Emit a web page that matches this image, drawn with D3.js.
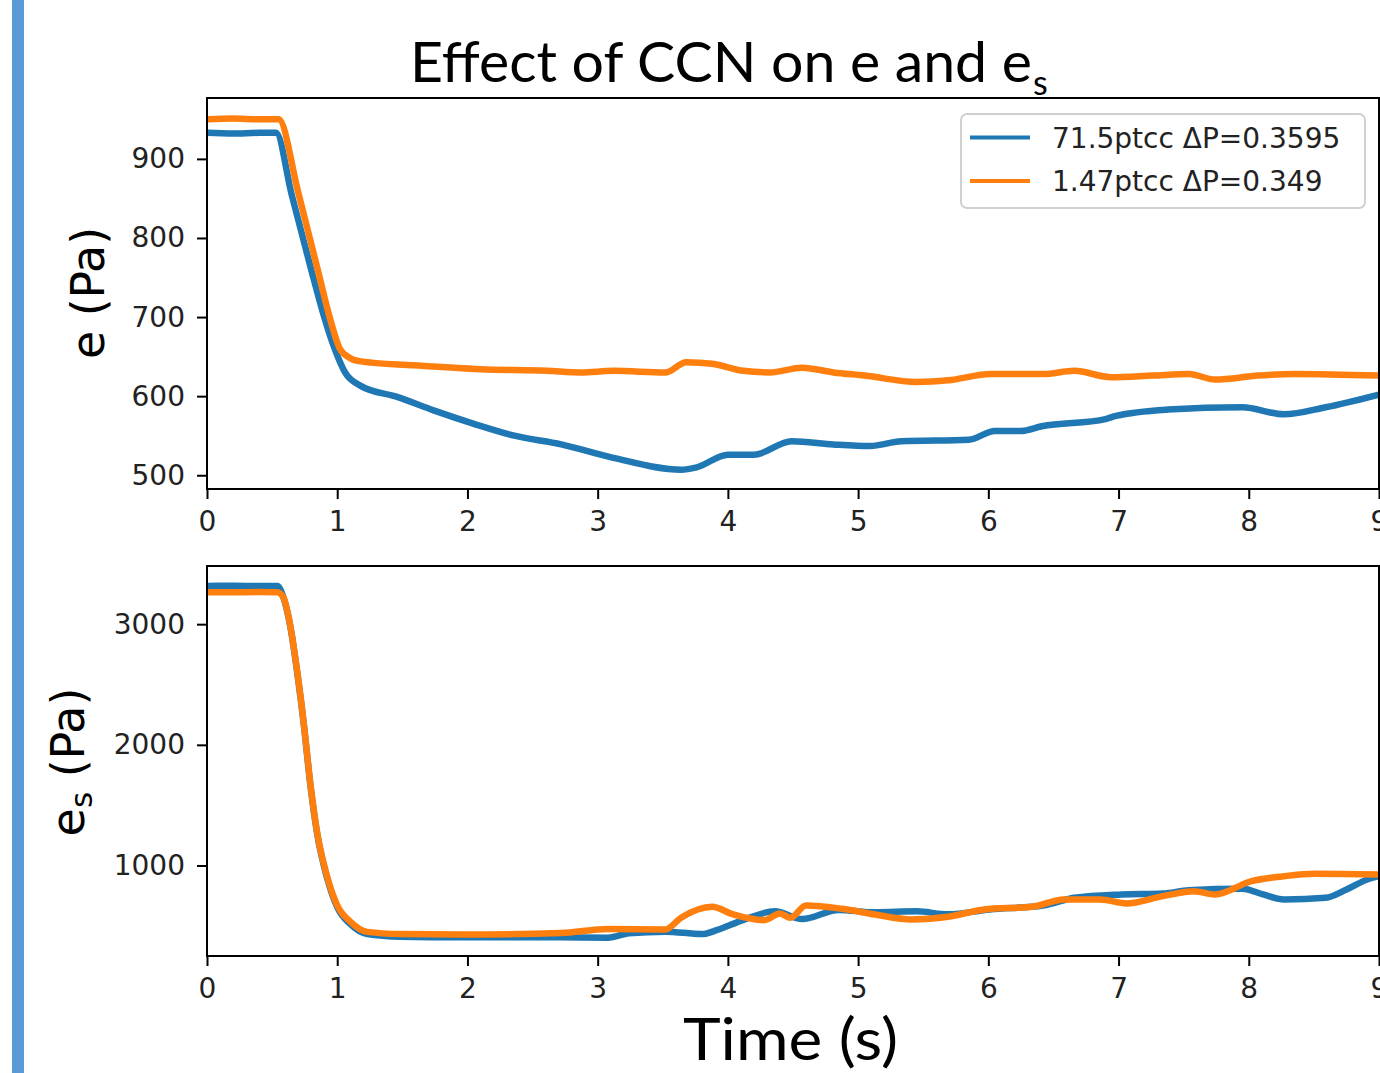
<!DOCTYPE html>
<html>
<head>
<meta charset="utf-8">
<script src="https://cdn.jsdelivr.net/npm/d3@7"></script>
<style>
  html, body { margin: 0; padding: 0; background: #fff; overflow: hidden; }
  svg { display: block; }
</style>
</head>
<body>
<svg id="chart" width="1380" height="1073"></svg>
<script>
// ---------- data ----------
const xTicks = [0, 1, 2, 3, 4, 5, 6, 7, 8, 9];
const eTicks = [500, 600, 700, 800, 900];
const esTicks = [1000, 2000, 3000];
const seriesNames = ["71.5ptcc \u0394P=0.3595", "1.47ptcc \u0394P=0.349"];

// top panel: e (Pa)
const eBlueT = [0, 0.2, 0.4, 0.53, 0.65, 0.8, 0.9, 0.98, 1.06, 1.18, 1.46, 1.74, 2.05, 2.36, 2.72, 3.12, 3.64, 3.76, 4.0, 4.2, 4.49, 4.81, 5.09, 5.33, 5.85, 6.05, 6.25, 6.41, 6.9, 6.98, 7.38, 7.95, 8.27, 8.59, 9.0];
const eBlueV = [933, 932, 933, 933, 855, 760, 700, 660, 630, 613, 599, 582, 565, 550, 539, 522, 507, 510, 526, 526, 543, 539, 537, 543, 545, 556, 556, 562, 571, 575, 583, 586, 577, 586, 602];
const eOrangeT = [0, 0.2, 0.4, 0.55, 0.7, 0.85, 0.95, 1.02, 1.1, 1.18, 1.59, 2.1, 2.61, 2.87, 3.12, 3.52, 3.68, 3.88, 4.12, 4.32, 4.57, 4.81, 5.05, 5.45, 5.69, 6.02, 6.42, 6.66, 6.94, 7.26, 7.54, 7.74, 8.07, 8.35, 9.0];
const eOrangeV = [950, 951, 950, 950, 858, 760, 695, 660, 648, 644, 639, 634, 632, 630, 632, 630, 643, 641, 632, 630, 636, 630, 626, 618, 620, 628, 628, 632, 624, 626, 628, 621, 626, 628, 626];

// bottom panel: e_s (Pa)
const esBlueT = [0, 0.2, 0.4, 0.54, 0.585, 0.64, 0.69, 0.745, 0.795, 0.845, 0.92, 1.0, 1.1, 1.23, 1.485, 1.95, 2.715, 3.08, 3.24, 3.52, 3.8, 3.92, 4.12, 4.36, 4.57, 4.85, 5.13, 5.45, 5.69, 6.01, 6.42, 6.66, 7.02, 7.34, 7.54, 7.95, 8.11, 8.27, 8.59, 8.75, 8.91, 9.0];
const esBlueV = [3317, 3318, 3316, 3316, 3228, 2980, 2622, 2153, 1656, 1270, 905, 655, 515, 432, 410, 405, 405, 402, 438, 452, 432, 466, 550, 620, 556, 632, 612, 620, 595, 636, 668, 732, 760, 768, 795, 807, 760, 719, 733, 801, 884, 911];
const esOrangeT = [0, 0.2, 0.4, 0.54, 0.585, 0.64, 0.69, 0.745, 0.795, 0.845, 0.92, 1.0, 1.1, 1.23, 1.485, 1.95, 2.715, 3.08, 3.52, 3.64, 3.88, 4.04, 4.28, 4.4, 4.48, 4.6, 4.88, 5.13, 5.41, 5.69, 5.97, 6.34, 6.58, 6.86, 7.06, 7.34, 7.58, 7.74, 8.02, 8.27, 8.51, 9.0];
const esOrangeV = [3265, 3264, 3266, 3265, 3225, 2985, 2630, 2160, 1665, 1280, 918, 670, 535, 450, 432, 428, 440, 474, 470, 567, 658, 594, 547, 602, 567, 669, 641, 594, 553, 575, 636, 658, 719, 719, 686, 746, 787, 760, 870, 911, 931, 925];

// ---------- layout ----------
const colors = ["#1f77b4", "#ff7f0e"];
const svg = d3.select("#chart");
const W = 1380, H = 1073;
const leftX = 207, rightX = 1379;

// left accent bar
svg.append("rect").attr("x", 12).attr("y", 0).attr("width", 12).attr("height", H).attr("fill", "#5b9bd5");

const x = d3.scaleLinear().domain([0, 9]).range([leftX, rightX]);

function panel(opts) {
  const y = d3.scaleLinear().domain(opts.ydomain).range([opts.bottom, opts.top]);
  const g = svg.append("g");
  const clipId = "clip" + opts.id;
  svg.append("clipPath").attr("id", clipId).append("rect")
    .attr("x", leftX).attr("y", opts.top).attr("width", rightX - leftX).attr("height", opts.bottom - opts.top);

  const line = d3.line().x(d => x(d[0])).y(d => y(d[1])).curve(d3.curveMonotoneX);
  opts.series.forEach((s, i) => {
    const pts = s.t.map((t, k) => [t, s.v[k]]);
    g.append("path").attr("d", line(pts)).attr("fill", "none")
      .attr("stroke", colors[i]).attr("stroke-width", 6.5).attr("stroke-linejoin", "round")
      .attr("clip-path", `url(#${clipId})`);
  });

  const xa = d3.axisBottom(x).tickValues(xTicks).tickSize(10).tickPadding(10).tickFormat(d3.format("d"));
  const gx = g.append("g").attr("transform", `translate(0,${opts.bottom})`).call(xa);
  const ya = d3.axisLeft(y).tickValues(opts.yticks).tickSize(10).tickPadding(12).tickFormat(d3.format("d"));
  const gy = g.append("g").attr("transform", `translate(${leftX},0)`).call(ya);
  [gx, gy].forEach(a => {
    a.select(".domain").remove();
    a.selectAll(".tick line").attr("stroke", "#000").attr("stroke-width", 2);
    a.selectAll(".tick text").attr("fill", "#222").attr("font-family", "DejaVu Sans").attr("font-size", 28);
  });
  gx.selectAll(".tick text").attr("dy", "0.8em");

  g.append("rect").attr("x", leftX).attr("y", opts.top).attr("width", rightX - leftX).attr("height", opts.bottom - opts.top)
    .attr("fill", "none").attr("stroke", "#000").attr("stroke-width", 2);
  return { g, y };
}

const topPanel = panel({
  id: 1, top: 98, bottom: 489, ydomain: [482.6, 977], yticks: eTicks,
  series: [{ t: eBlueT, v: eBlueV }, { t: eOrangeT, v: eOrangeV }]
});
const botPanel = panel({
  id: 2, top: 566, bottom: 956, ydomain: [250, 3482], yticks: esTicks,
  series: [{ t: esBlueT, v: esBlueV }, { t: esOrangeT, v: esOrangeV }]
});

// y labels
svg.append("text").attr("transform", "translate(104,293) rotate(-90)")
  .attr("text-anchor", "middle").attr("font-family", "DejaVu Sans").attr("font-size", 46)
  .attr("textLength", 132).attr("lengthAdjust", "spacingAndGlyphs").attr("fill", "#000")
  .text("e (Pa)");

const yl2 = svg.append("text").attr("transform", "translate(84,762) rotate(-90)")
  .attr("text-anchor", "middle").attr("font-family", "DejaVu Sans").attr("font-size", 46).attr("fill", "#000");
yl2.append("tspan").text("e");
yl2.append("tspan").attr("font-size", 31).attr("dy", 8).text("s");
yl2.append("tspan").attr("dy", -8).text(" (Pa)");

// legend
const lg = svg.append("g");
lg.append("rect").attr("x", 961).attr("y", 114).attr("width", 404).attr("height", 94).attr("rx", 6)
  .attr("fill", "#fff").attr("fill-opacity", 0.8).attr("stroke", "#d0d0d0").attr("stroke-width", 2);
seriesNames.forEach((name, i) => {
  const yy = 137.5 + i * 43.5;
  lg.append("line").attr("x1", 970).attr("x2", 1030).attr("y1", yy).attr("y2", yy)
    .attr("stroke", colors[i]).attr("stroke-width", 4);
  lg.append("text").attr("x", 1052).attr("y", yy + 10).attr("font-family", "DejaVu Sans").attr("font-size", 28)
    .attr("fill", "#222").text(name);
});

// title
svg.append("text").attr("x", 410).attr("y", 82).attr("font-family", "Lato, 'Open Sans', sans-serif").attr("font-size", 56)
  .attr("textLength", 622).attr("lengthAdjust", "spacingAndGlyphs").attr("fill", "#000")
  .text("Effect of CCN on e and e");
svg.append("text").attr("x", 1033).attr("y", 95).attr("font-family", "Lato, 'Open Sans', sans-serif").attr("font-size", 34)
  .attr("fill", "#000").text("s");

// x label
svg.append("text").attr("x", 683).attr("y", 1060).attr("font-family", "Lato, 'Open Sans', sans-serif").attr("font-size", 58)
  .attr("textLength", 215).attr("lengthAdjust", "spacingAndGlyphs").attr("fill", "#000")
  .text("Time (s)");
</script>
</body>
</html>
